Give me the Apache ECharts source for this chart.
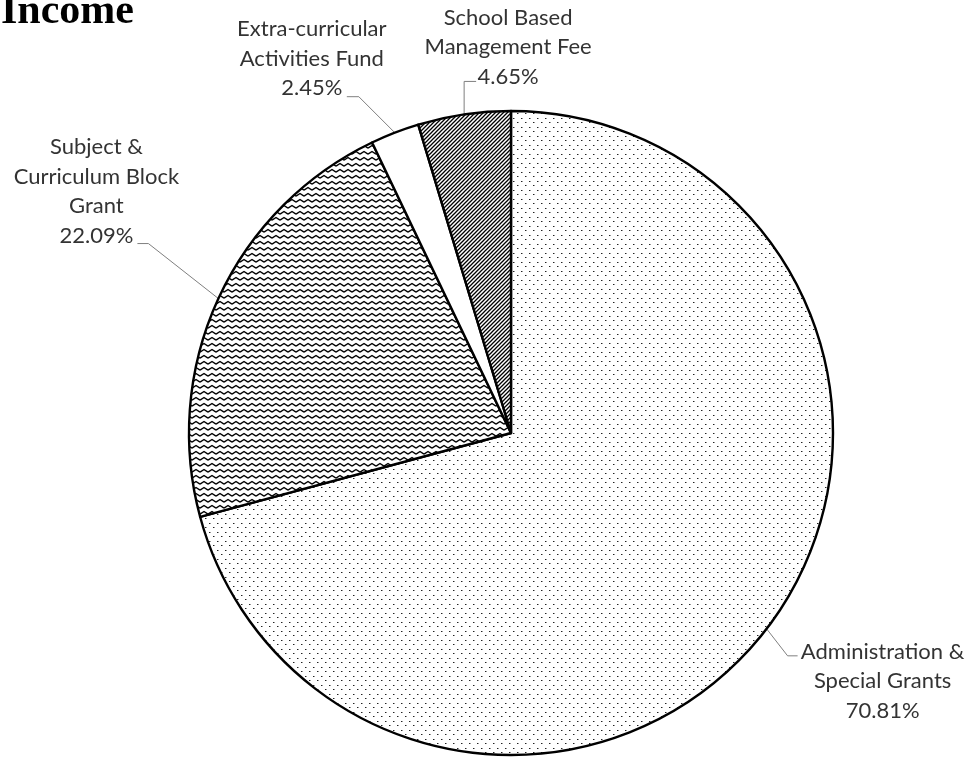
<!DOCTYPE html>
<html>
<head>
<meta charset="utf-8">
<script src="https://cdn.jsdelivr.net/npm/echarts@6/dist/echarts.min.js"></script>
<style>
  html, body { margin: 0; padding: 0; background: #fff; }
  #chart { width: 973px; height: 758px; }
</style>
</head>
<body>
<div id="chart"></div>
<script>
// ---- data ----
const titleText = 'Income';
const categories = [
  'Administration &\nSpecial Grants',
  'Subject &\nCurriculum Block\nGrant',
  'Extra-curricular\nActivities Fund',
  'School Based\nManagement Fee'
];
const percentValues = [70.81, 22.09, 2.45, 4.65];

// ---- fill patterns ----
function makeCanvas(w, h) {
  const c = document.createElement('canvas');
  c.width = w; c.height = h;
  const ctx = c.getContext('2d');
  ctx.fillStyle = '#fff';
  ctx.fillRect(0, 0, w, h);
  return [c, ctx];
}
function dotPattern() {
  const [c, ctx] = makeCanvas(8, 9);
  ctx.fillStyle = '#222';
  ctx.fillRect(1, 1, 1, 1);
  ctx.fillRect(5, 5, 1, 1);
  ctx.fillStyle = '#999';
  ctx.fillRect(2, 1, 1, 1);
  ctx.fillRect(6, 5, 1, 1);
  return c;
}
function zigzagPattern() {
  const [c, ctx] = makeCanvas(8, 6);
  ctx.strokeStyle = '#000';
  ctx.lineWidth = 1.4;
  ctx.beginPath();
  ctx.moveTo(0, 4.2); ctx.lineTo(4, 1.5); ctx.lineTo(8, 4.2);
  ctx.stroke();
  return c;
}
function hatchPattern() {
  const [c, ctx] = makeCanvas(4, 4);
  ctx.strokeStyle = '#000';
  ctx.lineWidth = 1.3;
  ctx.beginPath();
  ctx.moveTo(0, 4); ctx.lineTo(4, 0);
  ctx.moveTo(-1, 1); ctx.lineTo(1, -1);
  ctx.moveTo(3, 5); ctx.lineTo(5, 3);
  ctx.stroke();
  return c;
}
const fills = [
  { image: dotPattern(), repeat: 'repeat' },
  { image: zigzagPattern(), repeat: 'repeat' },
  '#ffffff',
  { image: hatchPattern(), repeat: 'repeat' }
];

// leader-line shape per slice: radial offset, horizontal run, and text placement
const leader = [
  { d1: [21, 27], run: 10, tdx: 85, tdy: -19, va: 'top' },
  { d1: [-70, -55], run: -11, tdx: -41, tdy: 7, va: 'bottom' },
  { d1: [-36, -36], run: -12, tdx: -35, tdy: 6, va: 'bottom' },
  { d1: [0, -33], run: 12, tdx: 32, tdy: 10, va: 'bottom' }
];

const chart = echarts.init(document.getElementById('chart'), null, { renderer: 'canvas' });
chart.setOption({
  animation: false,
  backgroundColor: '#fff',
  title: {
    text: titleText,
    left: -4,
    top: -14,
    textStyle: {
      fontFamily: 'Liberation Serif',
      fontWeight: 'bold',
      fontSize: 42,
      color: '#000'
    }
  },
  series: [{
    type: 'pie',
    center: [511, 433],
    radius: [0, 322],
    startAngle: 90,
    clockwise: true,
    avoidLabelOverlap: false,
    silent: true,
    data: categories.map((name, i) => ({
      name: name,
      value: percentValues[i],
      itemStyle: { color: fills[i] }
    })),
    itemStyle: { borderColor: '#000', borderWidth: 2.4 },
    label: {
      show: true,
      position: 'outside',
      width: 400,
      overflow: 'none',
      fontFamily: 'Lato',
      fontSize: 22,
      lineHeight: 29.5,
      color: '#333',
      formatter: p => p.name + '\n' + p.value.toFixed(2) + '%'
    },
    labelLine: {
      show: true,
      length: 20,
      length2: 10,
      lineStyle: { color: '#7f7f7f', width: 1 }
    },
    labelLayout: function (params) {
      const L = leader[params.dataIndex];
      const p0 = params.labelLinePoints[0];
      const p1 = [p0[0] + L.d1[0], p0[1] + L.d1[1]];
      const p2 = [p1[0] + L.run, p1[1]];
      return {
        x: p2[0] + L.tdx,
        y: p2[1] + L.tdy,
        align: 'center',
        verticalAlign: L.va,
        labelLinePoints: [p0, p1, p2]
      };
    },
    emphasis: { disabled: true }
  }]
});
</script>
</body>
</html>
